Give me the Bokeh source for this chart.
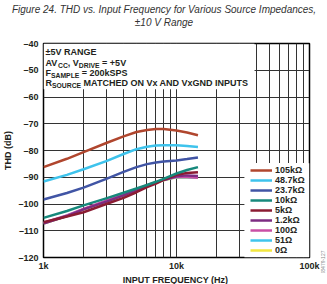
import math
from bokeh.plotting import figure
from bokeh.layouts import column, row
from bokeh.models import (FixedTicker, Label, Legend, LegendItem, BoxAnnotation, Plot)
from bokeh.core.properties import value
from bokeh.embed import file_html
from bokeh.resources import INLINE

# Input frequency (Hz) and THD (dB) per source impedance
freq = [1000, 1500, 2000, 3000, 4000, 5000, 6000, 7000, 8000, 10000, 12000, 14500]
thd_105k = [-86.2, -83.1, -80.6, -77.1, -74.7, -73.1, -72.3, -72.0, -72.0, -72.5, -73.3, -74.3]
thd_48k7 = [-91.6, -89.1, -87.0, -83.9, -81.3, -79.5, -78.6, -78.1, -78.0, -78.0, -78.3, -78.7]
thd_23k7 = [-98.3, -95.9, -93.9, -90.5, -88.0, -86.2, -85.1, -84.5, -84.1, -83.7, -83.2, -82.6]
thd_10k = [-105.2, -102.6, -100.5, -97.8, -95.8, -94.2, -92.9, -91.7, -90.6, -88.6, -87.3, -86.2]
thd_5k = [-106.8, -104.7, -103.1, -99.9, -97.7, -95.6, -93.7, -92.4, -91.0, -89.1, -88.4, -88.1]
thd_1k2 = [-107.3, -104.5, -102.0, -99.0, -96.8, -94.8, -93.2, -92.0, -91.0, -89.6, -89.3, -89.5]
thd_100 = [-107.0, -104.3, -101.8, -98.7, -96.5, -94.6, -93.0, -91.9, -90.9, -89.8, -89.9, -90.2]
thd_51 = [-107.2, -104.4, -101.9, -98.9, -96.7, -94.7, -93.1, -92.0, -91.0, -89.9, -90.0, -90.1]
thd_0 = [-107.3, -104.5, -102.0, -99.0, -96.8, -94.8, -93.2, -92.1, -91.1, -90.0, -90.1, -90.2]

series_labels = ["105kΩ", "48.7kΩ", "23.7kΩ", "10kΩ", "5kΩ", "1.2kΩ", "100Ω", "51Ω", "0Ω"]
series_values = [thd_105k, thd_48k7, thd_23k7, thd_10k, thd_5k, thd_1k2, thd_100, thd_51, thd_0]
series_colors = ["#b0462e", "#3ec3ec", "#4155a5", "#17897c", "#8b1c33",
                 "#7d2c82", "#c94fa5", "#40c4ec", "#f2e640"]

y_ticks = [-120, -110, -100, -90, -80, -70, -60, -50, -40]
y_tick_labels = ["–120", "–110", "–100", "–90", "–80", "–70", "–60", "–50", "–40"]
x_ticks = [1000, 10000, 100000]
x_tick_labels = ["1k", "10k", "100k"]
x_grid = [m * d for d in (1000, 10000) for m in range(1, 10)] + [100000]

caption_lines = ["Figure 24. THD vs. Input Frequency for Various Source Impedances,",
                 "±10 V Range"]
x_title = "INPUT FREQUENCY (Hz)"
figure_number = "08479-127"

FONT = "Liberation Sans"
INK = "#231f20"
W = 327
SIDE_W = 7
MAIN_W = W - SIDE_W
CAP_H = 30
FOOT_H = 11
MAIN_H = 284 - CAP_H - FOOT_H


def strip(width, height):
    s = figure(width=width, height=height, x_range=(0, width), y_range=(height, 0),
               output_backend="svg", toolbar_location=None, title=None,
               x_axis_location=None, y_axis_location=None, min_border=0)
    s.outline_line_color = None
    s.xgrid.visible = False
    s.ygrid.visible = False
    if "frame_align" in Plot.properties():
        s.frame_align = False
    return s


# caption strip above the chart
cap = strip(W, CAP_H)
cap.text(x=[W / 2, W / 2], y=[9, 22], text=caption_lines,
         text_align="center", text_baseline="middle",
         text_font=value(FONT), text_font_style="italic", text_font_size="10px",
         text_color="#333333")

# x-axis title strip below the chart
foot = strip(W, FOOT_H)
foot.text(x=[175], y=[5], text=[x_title], text_align="center", text_baseline="middle",
          text_font=value(FONT), text_font_style="bold", text_font_size="9px",
          text_color=INK)

# narrow strip on the right carrying the figure number
side = strip(SIDE_W, MAIN_H)
side.text(x=[2], y=[262 - CAP_H], text=[figure_number], angle=math.pi / 2,
          text_align="center", text_baseline="middle",
          text_font=value(FONT), text_font_size="5px", text_color="#888888")

p = figure(width=MAIN_W, height=MAIN_H, x_axis_type="log",
           x_range=(1000, 100000), y_range=(-120, -40),
           output_backend="svg", toolbar_location=None, title=None,
           min_border_left=42, min_border_right=MAIN_W - 309,
           min_border_top=43 - CAP_H, min_border_bottom=16)
p.outline_line_color = "black"
p.outline_line_width = 1.5
p.background_fill_color = "white"
p.border_fill_color = "white"
if "frame_align" in Plot.properties():
    p.frame_align = False

# axes
for ax in (p.xaxis[0], p.yaxis[0]):
    ax.major_tick_in = 0
    ax.major_tick_out = 0
    ax.minor_tick_in = 0
    ax.minor_tick_out = 0
    ax.axis_line_color = None
    ax.major_label_text_font = FONT
    ax.major_label_text_font_style = "bold"
    ax.major_label_text_font_size = "9px"
    ax.major_label_text_color = INK
    ax.axis_label_text_font = FONT
    ax.axis_label_text_font_style = "bold"
    ax.axis_label_text_font_size = "9px"
    ax.axis_label_text_color = INK

p.yaxis.ticker = FixedTicker(ticks=y_ticks)
p.yaxis.major_label_overrides = dict(zip(y_ticks, y_tick_labels))
p.yaxis.major_label_standoff = 5
p.yaxis.axis_label = "THD (dB)"
p.yaxis.axis_label_standoff = 2

p.xaxis.ticker = FixedTicker(ticks=x_ticks)
p.xaxis.major_label_overrides = dict(zip(x_ticks, x_tick_labels))
p.xaxis.major_label_standoff = 3

p.xgrid.ticker = FixedTicker(ticks=x_grid)
p.ygrid.ticker = FixedTicker(ticks=y_ticks)
for g in (p.xgrid, p.ygrid):
    g.grid_line_color = "#333333"
    g.grid_line_width = 1
    g.grid_line_alpha = 1

# white panels behind the condition text and the legend
p.add_layout(BoxAnnotation(left=1000, right=38600, top=-40, bottom=-57.1,
                           fill_color="white", fill_alpha=1, line_alpha=0, level="underlay"))
p.add_layout(BoxAnnotation(left=32400, right=100000, top=-84.8, bottom=-120,
                           fill_color="white", fill_alpha=1, line_alpha=0, level="underlay"))

renderers = {}
for lab, vals, col in reversed(list(zip(series_labels, series_values, series_colors))):
    renderers[lab] = p.line(freq, vals, line_color=col, line_width=2.5)

legend = Legend(items=[LegendItem(label=lab, renderers=[renderers[lab]]) for lab in series_labels],
                location=(205, 0), orientation="vertical",
                label_text_font=FONT, label_text_font_style="bold",
                label_text_font_size="9px", label_text_color=INK,
                glyph_width=22, glyph_height=10, label_height=10, label_standoff=3,
                spacing=0, padding=2, margin=0,
                background_fill_color="white", background_fill_alpha=1,
                border_line_alpha=0)
p.add_layout(legend)

# condition text with subscripts (Arial-metric advance widths, per 1000 em)
ADV = {"A": 722, "V": 667, "C": 722, ",": 278, " ": 278, "D": 722, "R": 722, "I": 278,
       "E": 667, "=": 584, "+": 584, "5": 556, "F": 611, "S": 667, "M": 833, "P": 667,
       "L": 611, "O": 778, "U": 722, "T": 611, "H": 722, "N": 722, "G": 778, "x": 556,
       "k": 556, "0": 556, "2": 556, "±": 549}


def text_run(parts, x0, y):
    x = x0
    for txt, sub in parts:
        size = 6.8 if sub else 9.0
        lead = len(txt) - len(txt.lstrip(" "))
        x += lead * ADV[" "] * size / 1000.0
        body = txt.lstrip(" ")
        p.add_layout(Label(x=x, y=y - CAP_H + (2.5 if sub else 0),
                           x_units="canvas", y_units="canvas",
                           text=body, text_font=FONT, text_font_style="bold",
                           text_font_size=f"{size}px", text_baseline="middle",
                           text_color=INK))
        x += sum(ADV.get(c, 556) for c in body) * size / 1000.0


text_run([("±5V RANGE", False)], 45, 51)
text_run([("AV", False), ("CC", True), (", V", False), ("DRIVE", True), (" = +5V", False)], 45, 62)
text_run([("F", False), ("SAMPLE", True), (" = 200kSPS", False)], 45, 72)
text_run([("R", False), ("SOURCE", True), (" MATCHED ON Vx AND VxGND INPUTS", False)], 45, 82)

page = column(cap, row(p, side, spacing=0), foot, spacing=0)
open("out.html", "w").write(file_html(page, INLINE))
